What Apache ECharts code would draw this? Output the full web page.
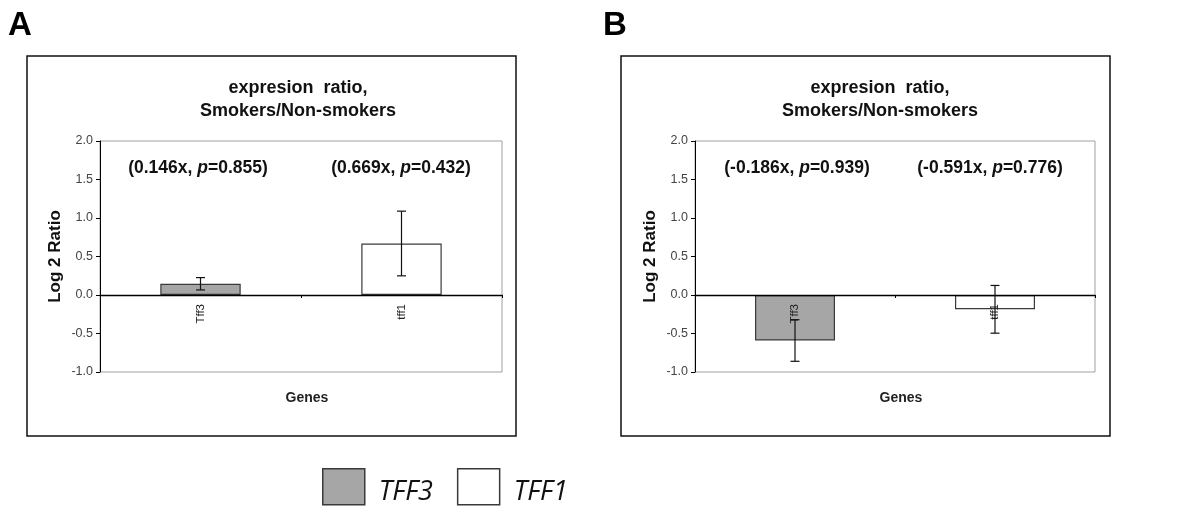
<!DOCTYPE html>
<html><head><meta charset="utf-8">
<script src="https://cdn.jsdelivr.net/npm/echarts@6/dist/echarts.min.js"></script>
<style>html,body{margin:0;padding:0;background:#fff}#c{width:1180px;height:506px}</style>
</head><body><div id="c"></div>
<script>
const categories = ['Tff3', 'tff1'];
const seriesNames = ['TFF3', 'TFF1'];
const valuesA = [0.146, 0.669];
const errorsA = [0.08, 0.42];
const valuesB = [-0.591, -0.186];
const errorsB = [0.27, 0.31];
const annotationsA = [['(0.146x, ', 'p', '=0.855)'], ['(0.669x, ', 'p', '=0.432)']];
const annotationsB = [['(-0.186x, ', 'p', '=0.939)'], ['(-0.591x, ', 'p', '=0.776)']];
const yMin = -1.0, yMax = 2.0, yStep = 0.5;
const panelLetters = ['A', 'B'];
const chartTitle = 'expresion  ratio,\nSmokers/Non-smokers';
const yAxisName = 'Log 2 Ratio';
const xAxisName = 'Genes';

const FONT = '"Liberation Sans", Arial, sans-serif';
const GRAY = '#a6a6a6';
const EDGE = '#3a3a3a';

const grids = [
  {left: 100, top: 141, width: 402, height: 231},
  {left: 695, top: 141, width: 400, height: 231}
];
const boxes = [{x: 27, y: 56, w: 489, h: 380}, {x: 621, y: 56, w: 489, h: 380}];
const titleCenters = [298, 880];
const annCenters = [[198, 401], [797, 990]];
const letterX = [8, 603];

const chart = echarts.init(document.getElementById('c'), null, {renderer: 'canvas'});

const xAxes = [], yAxes = [], series = [], titles = [], graphics = [];
const panels = [
  {values: valuesA, errors: errorsA, ann: annotationsA},
  {values: valuesB, errors: errorsB, ann: annotationsB}
];

panels.forEach((p, gi) => {
  // place the category axis (line, ticks and labels) on the value-axis zero
  const zeroOffset = -grids[gi].height * (0 - yMin) / (yMax - yMin);
  xAxes.push({
    gridIndex: gi, type: 'category', data: categories, position: 'bottom', offset: zeroOffset, z: 4,
    axisLine: {onZero: false, lineStyle: {color: '#000', width: 1.3}},
    axisTick: {show: true, length: 3, lineStyle: {color: '#000'}},
    axisLabel: {rotate: 90, margin: 9, fontFamily: FONT, fontSize: 11.5, color: '#222'},
    splitLine: {show: false}
  });
  yAxes.push({
    gridIndex: gi, type: 'value', min: yMin, max: yMax, interval: yStep,
    name: yAxisName, nameLocation: 'middle', nameGap: 36,
    nameTextStyle: {fontFamily: FONT, fontWeight: 'bold', fontSize: 17, color: '#111'},
    axisLine: {show: true, lineStyle: {color: '#000', width: 1}},
    axisTick: {show: true, length: 4, lineStyle: {color: '#000'}},
    axisLabel: {formatter: v => v.toFixed(1), fontFamily: FONT, fontSize: 12.5, color: '#444', margin: 7},
    splitLine: {show: false}
  });
  seriesNames.forEach((nm, si) => {
    const d = categories.map((c, ci) => ci === si ? p.values[ci] : '-');
    series.push({
      name: nm, type: 'bar', xAxisIndex: gi, yAxisIndex: gi,
      data: d, barWidth: '40%', barGap: '-100%',
      itemStyle: {color: si === 0 ? GRAY : '#fff', borderColor: EDGE, borderWidth: 1.2},
      z: 2
    });
  });
  series.push({
    type: 'custom', xAxisIndex: gi, yAxisIndex: gi, z: 5,
    data: categories.map((c, ci) => [ci, p.values[ci], p.errors[ci]]),
    encode: {x: 0, y: 1},
    renderItem: function (params, api) {
      const i = api.value(0), v = api.value(1), e = api.value(2);
      const top = api.coord([i, v + e]);
      const bot = api.coord([i, v - e]);
      const hw = 4.5;
      const st = {stroke: '#111', lineWidth: 1.2};
      return {type: 'group', children: [
        {type: 'line', shape: {x1: top[0], y1: top[1], x2: bot[0], y2: bot[1]}, style: st},
        {type: 'line', shape: {x1: top[0] - hw, y1: top[1], x2: top[0] + hw, y2: top[1]}, style: st},
        {type: 'line', shape: {x1: bot[0] - hw, y1: bot[1], x2: bot[0] + hw, y2: bot[1]}, style: st}
      ]};
    }
  });
  titles.push({
    text: chartTitle, left: titleCenters[gi], top: 77, textAlign: 'center', padding: 0,
    textStyle: {fontFamily: FONT, fontWeight: 'bold', fontSize: 18, lineHeight: 23, color: '#111'}
  });
  p.ann.forEach((a, ai) => {
    titles.push({
      text: '{b|' + a[0] + '}{i|' + a[1] + '}{b|' + a[2] + '}',
      left: annCenters[gi][ai], top: 159, textAlign: 'center', padding: 0,
      textStyle: {rich: {
        b: {fontFamily: FONT, fontWeight: 'bold', fontSize: 17.5, color: '#111'},
        i: {fontFamily: FONT, fontWeight: 'bold', fontStyle: 'italic', fontSize: 17.5, color: '#111'}
      }}
    });
  });
  const b = boxes[gi];
  graphics.push({type: 'rect', shape: {x: b.x, y: b.y, width: b.w, height: b.h},
    style: {fill: null, stroke: '#111', lineWidth: 1.5}, z: 0});
  graphics.push({type: 'text', x: letterX[gi], y: 9,
    style: {text: panelLetters[gi], font: 'bold 33px ' + FONT, fill: '#000'}});
  graphics.push({type: 'text', x: grids[gi].left + grids[gi].width / 2 + 6, y: 398,
    style: {text: xAxisName, font: 'bold 14px ' + FONT, fill: '#222', align: 'center', verticalAlign: 'middle'}});
});

chart.setOption({
  animation: false,
  backgroundColor: '#fff',
  title: titles,
  grid: grids.map(g => Object.assign({show: true, borderColor: '#a0a0a0', borderWidth: 1, backgroundColor: 'transparent'}, g)),
  xAxis: xAxes,
  yAxis: yAxes,
  series: series,
  legend: {
    left: 322, top: 468, padding: 0, itemWidth: 42, itemHeight: 36, itemGap: 24, icon: 'rect', selectedMode: false,
    formatter: '{t|{name}}',
    textStyle: {rich: {t: {fontFamily: '"Open Sans", sans-serif', fontStyle: 'italic', fontSize: 27, color: '#111', padding: [12, 0, 0, 9]}}},
    data: [
      {name: seriesNames[0], itemStyle: {color: GRAY, borderColor: EDGE, borderWidth: 1.5}},
      {name: seriesNames[1], itemStyle: {color: '#fff', borderColor: EDGE, borderWidth: 1.5}}
    ]
  },
  graphic: graphics
});
</script>
</body></html>
